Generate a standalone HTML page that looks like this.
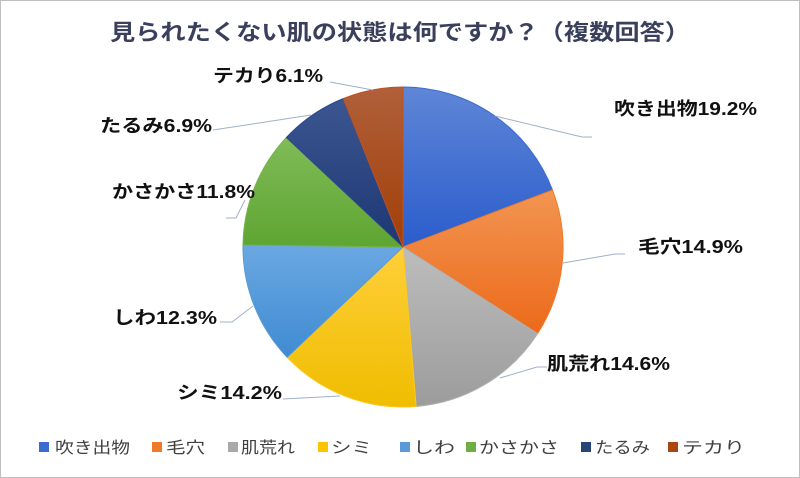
<!DOCTYPE html>
<html><head><meta charset="utf-8"><style>
body{margin:0;background:#fff}
svg{display:block}
text{font-family:"Liberation Sans","Noto Sans CJK JP",sans-serif}
.l{font-size:18px;font-weight:bold;fill:#111}
.g{font-size:16px;fill:#404040}
</style></head><body>
<svg width="800" height="478" viewBox="0 0 800 478" xmlns="http://www.w3.org/2000/svg">
<defs>
<linearGradient id="c1" x1="0" y1="0" x2="0" y2="1"><stop offset="0" stop-color="#5f86d6"/><stop offset="1" stop-color="#2a5ccc"/></linearGradient>
<linearGradient id="c2" x1="0" y1="0" x2="0" y2="1"><stop offset="0" stop-color="#f29552"/><stop offset="1" stop-color="#ec6a1a"/></linearGradient>
<linearGradient id="c3" x1="0" y1="0" x2="0" y2="1"><stop offset="0" stop-color="#bdbdbd"/><stop offset="1" stop-color="#9c9c9c"/></linearGradient>
<linearGradient id="c4" x1="0" y1="0" x2="0" y2="1"><stop offset="0" stop-color="#ffcf3a"/><stop offset="1" stop-color="#efbd00"/></linearGradient>
<linearGradient id="c5" x1="0" y1="0" x2="0" y2="1"><stop offset="0" stop-color="#6aa8e2"/><stop offset="1" stop-color="#3f8bd2"/></linearGradient>
<linearGradient id="c6" x1="0" y1="0" x2="0" y2="1"><stop offset="0" stop-color="#80bb58"/><stop offset="1" stop-color="#5ea532"/></linearGradient>
<linearGradient id="c7" x1="0" y1="0" x2="0" y2="1"><stop offset="0" stop-color="#3b5690"/><stop offset="1" stop-color="#1d3774"/></linearGradient>
<linearGradient id="c8" x1="0" y1="0" x2="0" y2="1"><stop offset="0" stop-color="#b0603a"/><stop offset="1" stop-color="#a23e08"/></linearGradient>
</defs>
<rect x="0.5" y="0.5" width="799" height="477" fill="#fff" stroke="#bfbfbf"/>
<text x="110" y="40" textLength="580" lengthAdjust="spacingAndGlyphs" style="font-size:22px;font-weight:bold;fill:#3a3f5c">見られたくない肌の状態は何ですか？（複数回答）</text>
<g stroke-width="1">
<path d="M403,247 L403,87 A160,160 0 0 1 552.5,190 Z" fill="url(#c1)" stroke="#3b6bd0"/>
<path d="M403,247 L552.5,190 A160,160 0 0 1 537.6,333.6 Z" fill="url(#c2)" stroke="#f07a2a"/>
<path d="M403,247 L537.6,333.6 A160,160 0 0 1 416.1,406.5 Z" fill="url(#c3)" stroke="#b0b0b0"/>
<path d="M403,247 L416.1,406.5 A160,160 0 0 1 287.1,357.3 Z" fill="url(#c4)" stroke="#ffc820"/>
<path d="M403,247 L287.1,357.3 A160,160 0 0 1 243,245 Z" fill="url(#c5)" stroke="#5a9ad8"/>
<path d="M403,247 L243,245 A160,160 0 0 1 286.4,137.5 Z" fill="url(#c6)" stroke="#76b34a"/>
<path d="M403,247 L286.4,137.5 A160,160 0 0 1 343.2,98.6 Z" fill="url(#c7)" stroke="#2a4890"/>
<path d="M403,247 L343.2,98.6 A160,160 0 0 1 403,87 Z" fill="url(#c8)" stroke="#c05020"/>
</g>
<g stroke="#9fb0c8" fill="none" stroke-width="1">
<polyline points="495,116 582,137 592,137"/>
<polyline points="563,263 615,254 625,254"/>
<polyline points="500,378 537,367 547,367"/>
<polyline points="283,399 340,396"/>
<polyline points="220,322 232,322 253,306"/>
<polyline points="226,218 236,218 245,200"/>
<polyline points="213,130 311,115"/>
<polyline points="330,82 373,90"/>
</g>
<g lengthAdjust="spacingAndGlyphs">
<text class="l" x="614" y="115" textLength="143" lengthAdjust="spacingAndGlyphs">吹き出物19.2%</text>
<text class="l" x="638" y="253" textLength="105" lengthAdjust="spacingAndGlyphs">毛穴14.9%</text>
<text class="l" x="547" y="370" textLength="123" lengthAdjust="spacingAndGlyphs">肌荒れ14.6%</text>
<text class="l" x="177" y="399" textLength="105" lengthAdjust="spacingAndGlyphs">シミ14.2%</text>
<text class="l" x="113" y="324" textLength="104" lengthAdjust="spacingAndGlyphs">しわ12.3%</text>
<text class="l" x="112" y="198" textLength="143" lengthAdjust="spacingAndGlyphs">かさかさ11.8%</text>
<text class="l" x="100" y="132" textLength="112" lengthAdjust="spacingAndGlyphs">たるみ6.9%</text>
<text class="l" x="213" y="82" textLength="110" lengthAdjust="spacingAndGlyphs">テカり6.1%</text>
</g>
<g>
<rect x="39" y="442" width="10" height="10" fill="#3a6bd0"/><text class="g" x="55" y="453" textLength="75" lengthAdjust="spacingAndGlyphs">吹き出物</text>
<rect x="152" y="442" width="10" height="10" fill="#ef7a2a"/><text class="g" x="166" y="453" textLength="39" lengthAdjust="spacingAndGlyphs">毛穴</text>
<rect x="228" y="442" width="10" height="10" fill="#a9a9a9"/><text class="g" x="241" y="453" textLength="54" lengthAdjust="spacingAndGlyphs">肌荒れ</text>
<rect x="318" y="442" width="10" height="10" fill="#ffc400"/><text class="g" x="331" y="453" textLength="41" lengthAdjust="spacingAndGlyphs">シミ</text>
<rect x="400" y="442" width="10" height="10" fill="#5a9ad8"/><text class="g" x="413" y="453" textLength="42" lengthAdjust="spacingAndGlyphs">しわ</text>
<rect x="466" y="442" width="10" height="10" fill="#6fae45"/><text class="g" x="479" y="453" textLength="80" lengthAdjust="spacingAndGlyphs">かさかさ</text>
<rect x="581" y="442" width="10" height="10" fill="#264478"/><text class="g" x="595" y="453" textLength="55" lengthAdjust="spacingAndGlyphs">たるみ</text>
<rect x="668" y="442" width="10" height="10" fill="#a8480e"/><text class="g" x="682" y="453" textLength="63" lengthAdjust="spacingAndGlyphs">テカり</text>
</g>
</svg>
</body></html>
